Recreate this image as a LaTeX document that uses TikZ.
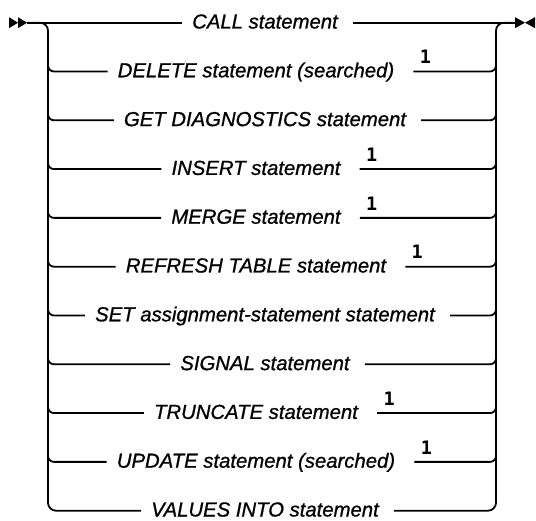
\documentclass[tikz,border=0pt]{standalone}
\usepackage{fontspec}
\newfontfamily\synfont{Liberation Sans}[ItalicFeatures={FakeBold=0.9}]
\newfontfamily\notefont{DejaVu Sans Mono}
\usetikzlibrary{calc}
\tikzset{
  syn item/.style={
    font=\synfont\itshape\fontsize{20.3}{24}\selectfont,
    inner xsep=10pt,
    inner ysep=0pt,
    text height=14.6pt,
    text depth=3pt,
  },
  syn note/.style={
    font=\notefont\bfseries\fontsize{18.5}{20}\selectfont,
    inner sep=0pt,
    anchor=base,
  },
  syn line/.style={line width=1.8pt},
  syn tip/.style={fill=black},
}

\begin{document}
\begin{tikzpicture}[x=1pt,y=-1pt]
  \useasboundingbox (0,0) rectangle (536,521);
  \coordinate (start) at (27,22.7);
  \coordinate (stop) at (515,22.7);
  \coordinate (ltop) at (48,22.7);
  \coordinate (rtop) at (496,22.7);
  % begin and end marks
  \fill[syn tip] (9,17.2) -- (18,22.7) -- (9,28.2) -- cycle;
  \fill[syn tip] (18,17.2) -- (start) -- (18,28.2) -- cycle;
  \fill[syn tip] (stop) ++(0,-5.5) -- ++(10,5.5) -- ++(-10,5.5) -- cycle;
  \fill[syn tip] (535,17.2) -- (525,22.7) -- (535,28.2) -- cycle;
  % the choices
  \foreach \nm/\txt/\fn [count=\i from 0] in {
      call/CALL statement/0,
      delete/DELETE statement (searched)/1,
      diag/GET DIAGNOSTICS statement/0,
      insert/INSERT statement/1,
      merge/MERGE statement/1,
      refresh/REFRESH TABLE statement/1,
      set/SET assignment-statement statement/0,
      signal/SIGNAL statement/0,
      truncate/TRUNCATE statement/1,
      update/UPDATE statement (searched)/1,
      values/VALUES INTO statement/0}{
    \pgfmathsetmacro\y{22.7+48.8*\i}
    \pgfmathsetmacro\x{265-9*\fn}
    \node[syn item] (\nm) at (\x,\y) {\txt};
    \ifnum\fn=1
      \node[syn note] (\nm-note) at ([xshift=21pt,yshift=7.7pt]\nm.east) {1};
      \coordinate (\nm-out) at ([xshift=9pt]\nm.east);
    \else
      \coordinate (\nm-out) at ([xshift=5pt]\nm.east);
    \fi
  }
  % main line and rails
  \draw[syn line] (start) -- (call.west);
  \draw[syn line] (call-out) -- (stop);
  \draw[syn line, rounded corners=8pt] (start) -| (values.west -| ltop) -- (values.west);
  \draw[syn line, rounded corners=8pt] (values-out) -| (rtop) -- (stop);
  \foreach \nm in {delete,diag,insert,merge,refresh,set,signal,truncate,update}{
    \draw[syn line, rounded corners=6pt] ($(\nm.west -| ltop)+(0,-12)$) |- (\nm.west);
    \draw[syn line, rounded corners=6pt] (\nm-out) -| ($(\nm.east -| rtop)+(0,-12)$);
  }
\end{tikzpicture}
\end{document}
